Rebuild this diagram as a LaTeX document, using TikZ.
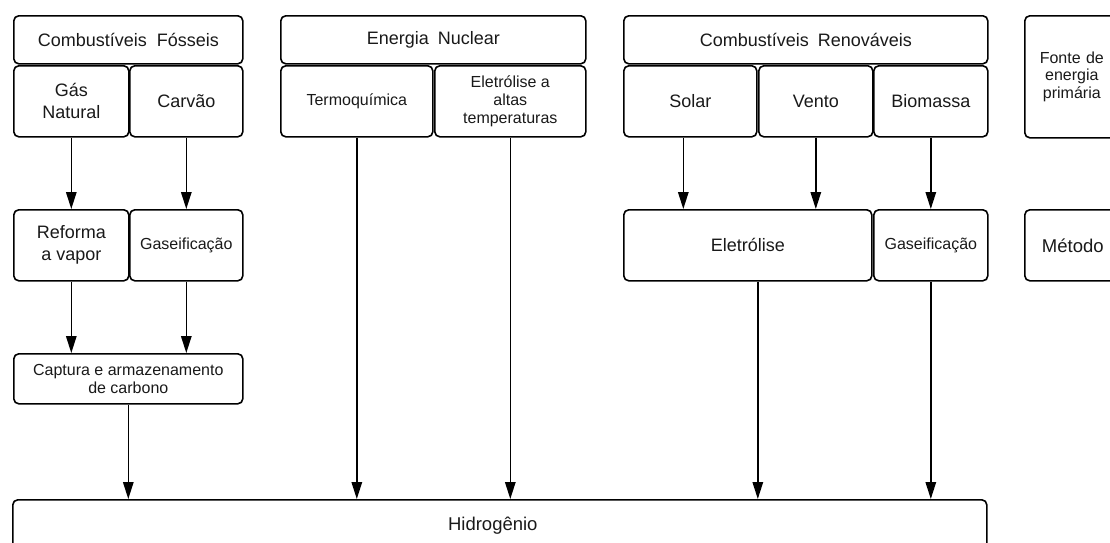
\documentclass[tikz,border=0pt]{standalone}
\usepackage{fontspec}
\setmainfont{Liberation Sans}
\usetikzlibrary{arrows.meta}
\begin{document}
\begin{tikzpicture}[x=1pt,y=-1pt,
  box/.style={draw, rounded corners=5pt, line width=1.6pt, inner sep=0pt, align=center, anchor=north west, text=black!90},
  big/.style={font=\fontsize{18}{22}\selectfont},
  small/.style={font=\fontsize{16}{18}\selectfont},
  sidebox/.style={font=\fontsize{16}{17.5}\selectfont},
  arr/.style={-{Triangle[length=17pt,width=10.5pt]}, line width=1.4pt}]
\useasboundingbox (0,0) rectangle (1110,542);
\clip (0,0) rectangle (1110,542);
% primary sources
\node[box,big,minimum width=229pt,minimum height=48pt] (cf) at (13,15) {Combustíveis\hspace{5pt} Fósseis};
\node[box,big,minimum width=115pt,minimum height=71pt] (gn) at (13,65) {Gás\\Natural};
\node[box,big,minimum width=113pt,minimum height=71pt] (cv) at (129,65) {Carvão};
\node[box,big,minimum width=305pt,minimum height=48pt] (en) at (280,15) {Energia\hspace{4pt} Nuclear};
\node[box,small,minimum width=152pt,minimum height=71pt] (tq) at (280,65) {Termoquímica};
\node[box,small,minimum width=151pt,minimum height=71pt] (ea) at (434,65) {Eletrólise a\\altas\\temperaturas};
\node[box,big,minimum width=364pt,minimum height=48pt] (cr) at (623,15) {Combustíveis\hspace{4pt} Renováveis};
\node[box,big,minimum width=133pt,minimum height=71pt] (so) at (623,65) {Solar};
\node[box,big,minimum width=114pt,minimum height=71pt] (ve) at (758,65) {Vento};
\node[box,big,minimum width=114pt,minimum height=71pt] (bi) at (873,65) {Biomassa};
\node[box,sidebox,text width=94pt,minimum height=122pt] (fo) at (1024,15) {Fonte de\\energia\\primária};
% methods
\node[box,big,minimum width=115pt,minimum height=71pt] (rv) at (13,209) {Reforma\\a vapor};
\node[box,small,minimum width=113pt,minimum height=71pt] (ga) at (129,209) {Gaseificação};
\node[box,big,minimum width=248pt,minimum height=71pt] (el) at (623,209) {Eletrólise};
\node[box,small,minimum width=114pt,minimum height=71pt] (gb) at (873,209) {Gaseificação};
\node[box,font=\fontsize{18.5}{22}\selectfont,text width=96pt,minimum height=71pt] (me) at (1024,209) {Método};
\node[box,small,minimum width=229pt,minimum height=50pt] (cap) at (13,353) {Captura e armazenamento\\de carbono};
\node[box,font=\fontsize{18.5}{22}\selectfont,minimum width=974pt,minimum height=52pt] (hid) at (12,499) {Hidrogênio\hspace*{14pt}};
% arrows
\draw[arr] (gn) -- (rv);
\draw[arr] (cv) -- (ga);
\draw[arr] (rv.south) -- (rv.south |- cap.north);
\draw[arr] (ga.south) -- (ga.south |- cap.north);
\draw[arr] (cap.south) -- (cap.south |- hid.north);
\draw[arr] (tq.south) -- (tq.south |- hid.north);
\draw[arr] (ea.south) -- (ea.south |- hid.north);
\draw[arr] ([xshift=-7pt]so.south) -- ([xshift=-7pt]so.south |- el.north);
\draw[arr] (ve.south) -- (ve.south |- el.north);
\draw[arr] (bi) -- (gb);
\draw[arr] ([xshift=10pt]el.south) -- ([xshift=10pt]el.south |- hid.north);
\draw[arr] (gb.south) -- (gb.south |- hid.north);
\end{tikzpicture}
\end{document}
